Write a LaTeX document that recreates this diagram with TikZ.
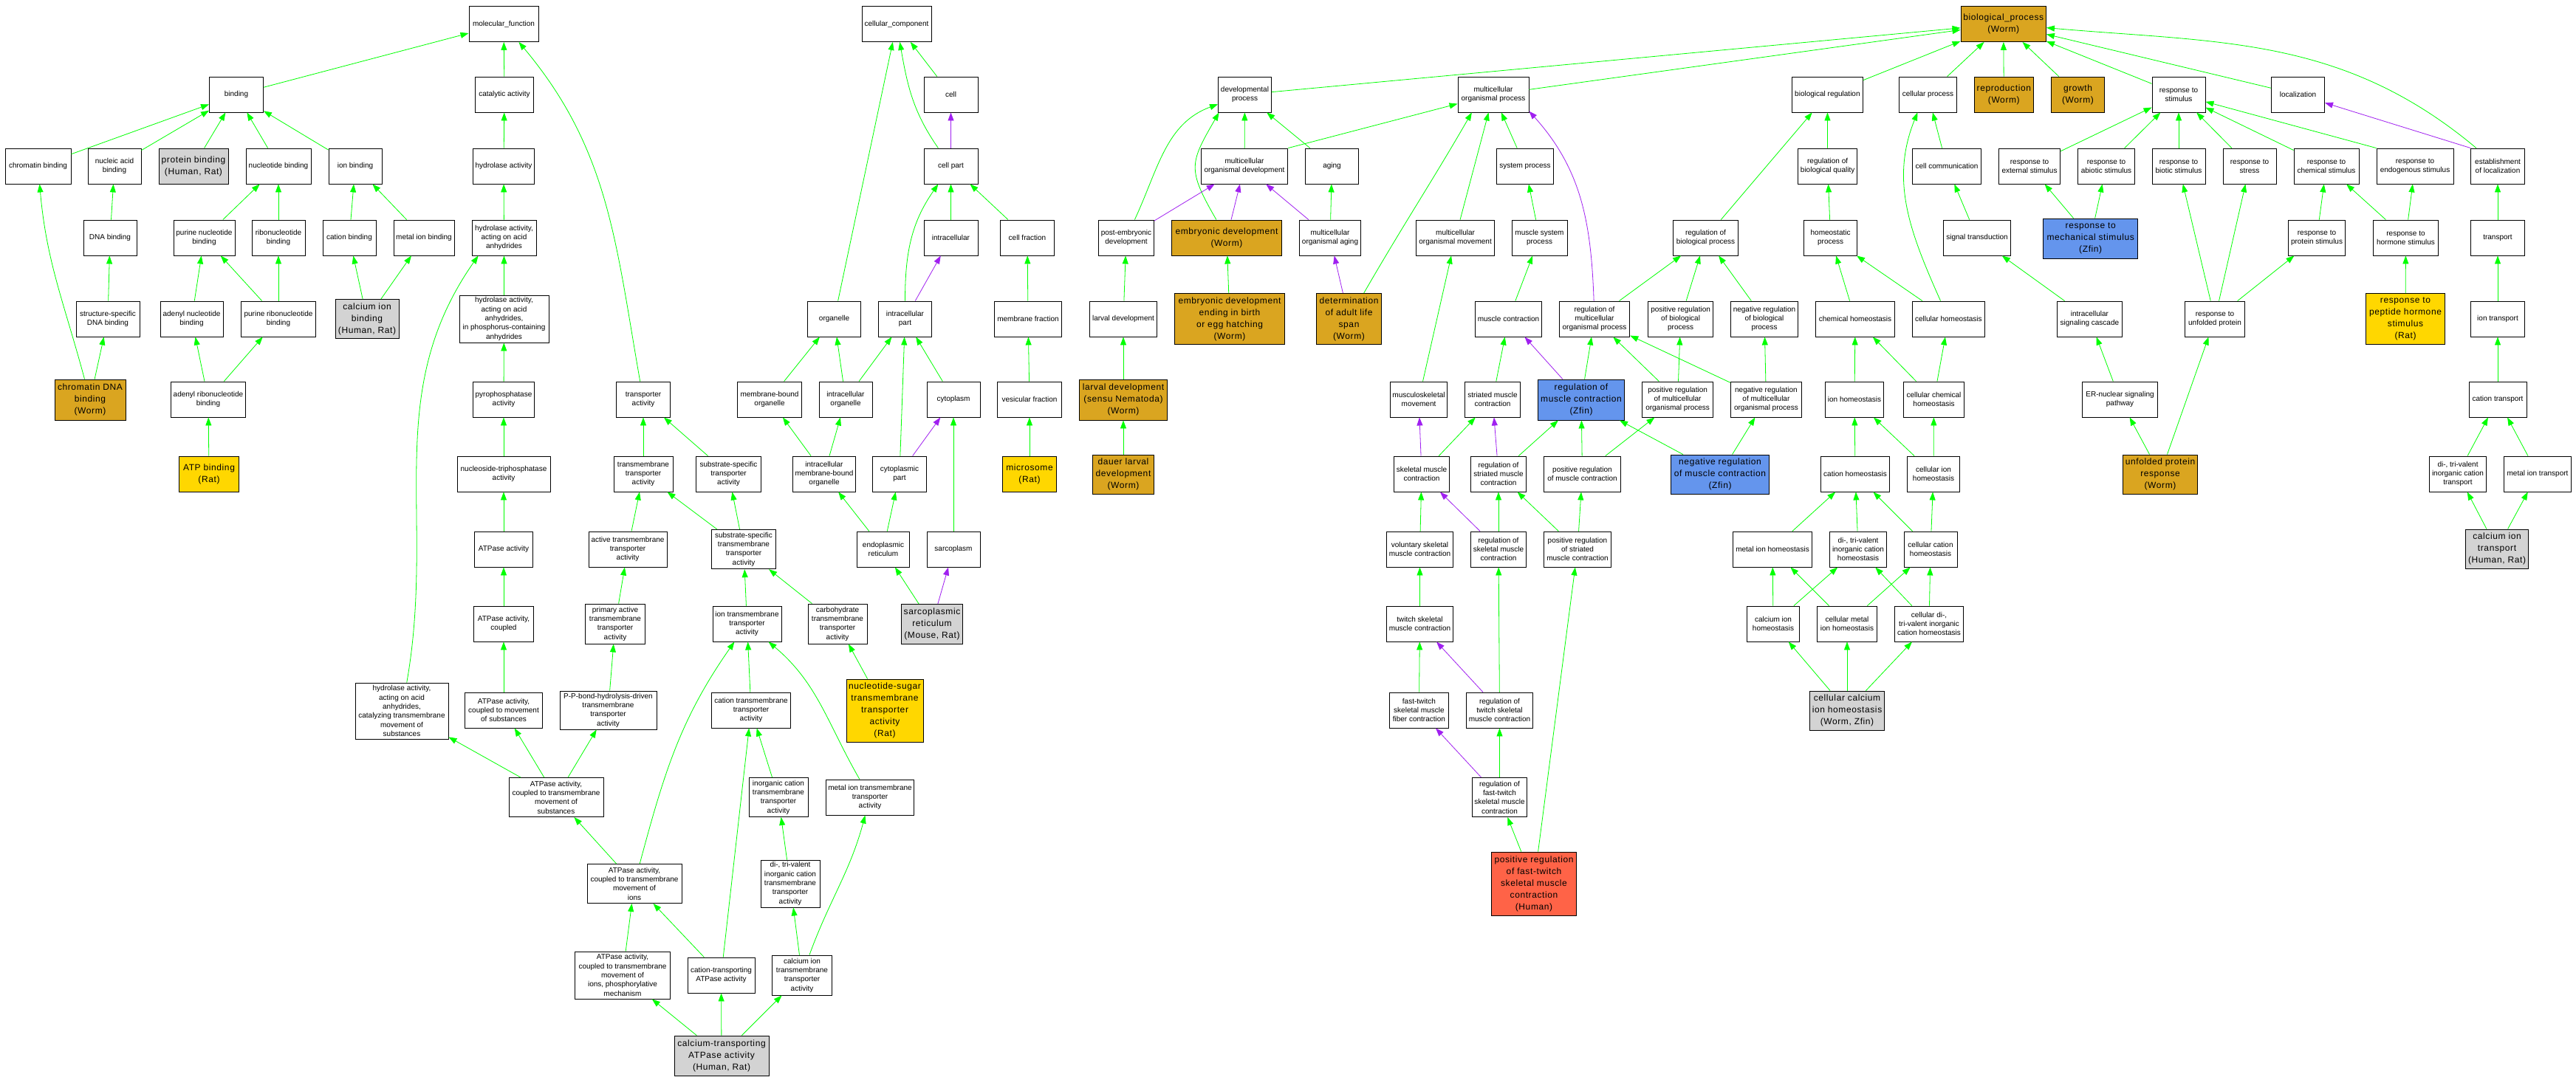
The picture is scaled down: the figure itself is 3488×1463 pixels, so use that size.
\documentclass[tikz,border=0pt]{standalone}
\usepackage{fontspec}
\setmainfont{Liberation Sans}
\newfontfamily\hitfont[LetterSpace=5]{Liberation Sans}
\usetikzlibrary{arrows.meta}
\definecolor{isagreen}{RGB}{0,255,0}
\definecolor{partpurple}{RGB}{160,32,240}
\definecolor{worm}{RGB}{218,165,32}
\definecolor{rat}{RGB}{255,215,0}
\definecolor{multi}{RGB}{211,211,211}
\definecolor{zfin}{RGB}{100,149,237}
\definecolor{human}{RGB}{255,99,71}
\tikzstyle{term}=[rectangle,draw,line width=0.9pt,fill=white,inner sep=1pt,align=center,font=\fontsize{10}{12.3}\selectfont]
\tikzstyle{hit}=[term,font=\hitfont\fontsize{12}{16}\selectfont]
\tikzstyle{isa}=[draw=isagreen,line width=0.8pt,-{Triangle[length=11pt,width=8pt]}]
\tikzstyle{partof}=[isa,draw=partpurple]

\begin{document}
\begin{tikzpicture}[x=1pt,y=1pt]
    \fill[white] (0,0) rectangle (3488,-1463);
    \useasboundingbox (0,0) rectangle (3488,-1463);

    % First we draw the plain terms
    \foreach \x/\y/\w/\h/\name/\txt in {
        682/32.5/94/48/mf/molecular\_function, 1214/32.5/94/48/cc/cellular\_component,
        320/128/73/48/binding/binding, 683/128/79/48/catalytic/catalytic activity,
        1287.5/128/73/48/cell/cell, 1685.5/128/72/48/devproc/developmental\\process,
        2022/128/96/48/mcop/multicellular\\organismal process, 2474.4/128/96/48/bioreg/biological regulation,
        2610.5/128/78/48/cellproc/cellular process, 2950/128/72/48/respstim/response to\\stimulus,
        3111.5/128/72/48/localiz/localization,
        51.5/225/89/48/chrombind/chromatin binding, 155/225/72/48/nucacid/nucleic acid\\binding,
        377/225/88/48/nucleotide/nucleotide binding, 481/225/72/48/ionbind/ion binding,
        682/225/82.5/48/hydrolase/hydrolase activity, 1287.5/225/73/48/cellpart/cell part,
        1685/225/117.6/48/mcodev/multicellular\\organismal development, 1803.5/225/72/48/aging/aging,
        2065/225/77.6/48/sysproc/system process, 2474.6/225/80.4/48/regbioqual/regulation of\\biological quality,
        2636/225/93/48/cellcomm/cell communication, 2748/225/83/48/respext/response to\\external stimulus,
        2852/225/77.3/48/respabio/response to\\abiotic stimulus, 2950/225/72/48/respbio/response to\\biotic stimulus,
        3046/225/72/48/respstress/response to\\stress, 3150/225/88/48/respchem/response to\\chemical stimulus,
        3270/225/104/48/respendo/response to\\endogenous stimulus, 3382/225/72.6/48/estloc/establishment\\of localization,
        149/322/72/48/dnabind/DNA binding, 276.5/322/83/48/purnuc/purine nucleotide\\binding,
        377/322/72/48/ribonuc/ribonucleotide\\binding, 473/322/72/48/catbind/cation binding,
        574/322/82/48/metbind/metal ion binding, 682.5/322/87/48/hydacid/{hydrolase activity,\\acting on acid\\anhydrides},
        1287.5/322/73/48/intracell/intracellular, 1391/322/73/48/cellfrac/cell fraction,
        1525/322/75/48/postemb/post-embryonic\\development, 1801/322/83/48/mcoaging/multicellular\\organismal aging,
        1970.6/322/106/48/mcomove/multicellular\\organismal movement, 2084.5/322/75/48/muscsys/muscle system\\process,
        2309.5/322/88.3/48/regbp/regulation of\\biological process, 2478.6/322/72.3/48/homeo/homeostatic\\process,
        2677/322/91/48/sigtrans/signal transduction, 3137/322/77.6/48/respprot/response to\\protein stimulus,
        3257.5/322/88/48/resphorm/response to\\hormone stimulus, 3382/322/72.6/48/transport/transport,
        146/432/86/48/ssdna/structure-specific\\DNA binding, 259.5/432/85/48/adenuc/adenyl nucleotide\\binding,
        377/432/101/48/purribo/purine ribonucleotide\\binding,
        682.5/432/121/64/hydphos/{hydrolase activity,\\acting on acid\\anhydrides,\\in phosphorus-containing\\anhydrides},
        1129.5/432/72/48/organelle/organelle, 1225.5/432/72/48/intrapart/intracellular\\part,
        1392/432/91.5/48/membfrac/membrane fraction, 1521/432/91.4/48/larval/larval development,
        2042.5/432/90/48/musccon/muscle contraction, 2159/432/95.6/48/regmcop/regulation of\\multicellular\\organismal process,
        2275.6/432/88.4/48/posregbp/positive regulation\\of biological\\process, 2389/432/91/48/negregbp/negative regulation\\of biological\\process,
        2512/432/107/48/chemhomeo/chemical homeostasis, 2638.4/432/98/48/cellhomeo/cellular homeostasis,
        2829.4/432/88/48/intrasig/intracellular\\signaling cascade, 2999/432/80.5/48/respunf/response to\\unfolded protein,
        3382/432/72.6/48/iontrans/ion transport,
        282/541/101.5/48/adenribo/adenyl ribonucleotide\\binding, 682/541/82.5/48/pyro/pyrophosphatase\\activity,
        871/541/72.6/48/transporter/transporter\\activity, 1042/541/86.5/48/membbound/membrane-bound\\organelle,
        1145/541/72/48/intraorg/intracellular\\organelle, 1291/541/72/48/cytoplasm/cytoplasm,
        1394/541/86.5/48/vesfrac/vesicular fraction, 1921/541/77/48/muskel/musculoskeletal\\movement,
        2021/541/75/48/striated/striated muscle\\contraction, 2271.6/541/96.4/48/posregmcop/positive regulation\\of multicellular\\organismal process,
        2391.4/541/96/48/negregmcop/negative regulation\\of multicellular\\organismal process, 2511/541/79.5/48/ionhomeo/ion homeostasis,
        2618.5/541/82/48/cellchem/cellular chemical\\homeostasis, 2870.5/541/102/48/ernuc/ER-nuclear signaling\\pathway,
        3382/541/78/48/cattrans/cation transport,
        682/642/126/48/ntpase/nucleoside-triphosphatase\\activity, 871/642/80/48/tmtrans/transmembrane\\transporter\\activity,
        986.5/642/88.4/48/sstrans/substrate-specific\\transporter\\activity, 1116/642/85.5/48/intramemb/intracellular\\membrane-bound\\organelle,
        1218/642/72.4/48/cytopart/cytoplasmic\\part, 1925/642/75.4/48/skelmusc/skeletal muscle\\contraction,
        2029/642/75/48/regstri/regulation of\\striated muscle\\contraction, 2142.5/642/103.7/48/posregmusc/positive regulation\\of muscle contraction,
        2512/642/93/48/cathomeo/cation homeostasis, 2618/642/71.5/48/cellionhomeo/cellular ion\\homeostasis,
        3328/642/77.5/48/ditritrans/{di-, tri-valent\\inorganic cation\\transport}, 3436/642/90.5/48/mettrans/metal ion transport,
        682/744/79/48/atpase/ATPase activity, 850/744/106/48/activetm/active transmembrane\\transporter\\activity,
        1007/744/87.5/53.5/sstm/substrate-specific\\transmembrane\\transporter\\activity, 1196/744/71.6/48/er/endoplasmic\\reticulum,
        1291/744/72/48/sarcoplasm/sarcoplasm, 1922.5/744/90.3/48/volskel/voluntary skeletal\\muscle contraction,
        2029/744/75/48/regskel/regulation of\\skeletal muscle\\contraction, 2136/744/90.7/48/posregstri/positive regulation\\of striated\\muscle contraction,
        2400/744/107/48/methomeo/metal ion homeostasis, 2516/744/77.3/48/ditrihomeo/{di-, tri-valent\\inorganic cation\\homeostasis},
        2614/744/72/48/cellcathomeo/cellular cation\\homeostasis,
        682/845/81/48/atpcoupled/{ATPase activity,\\coupled}, 833/845/80.5/54/primact/primary active\\transmembrane\\transporter\\activity,
        1011.5/845/93/48/iontm/ion transmembrane\\transporter\\activity, 1134/845/80/54/carbo/carbohydrate\\transmembrane\\transporter\\activity,
        1922.5/845/90.3/48/twitch/twitch skeletal\\muscle contraction, 2401/845/71.5/48/cahomeo/calcium ion\\homeostasis,
        2501/845/80.6/48/cellmethomeo/cellular metal\\ion homeostasis, 2612/845/93/48/cellditri/{cellular di-,\\tri-valent inorganic\\cation homeostasis},
        544/963/126/76/hydtm/{hydrolase activity,\\acting on acid\\anhydrides,\\catalyzing transmembrane\\movement of\\substances},
        682/962/105/48/atpmovsub/{ATPase activity,\\coupled to movement\\of substances},
        823.5/962/131/52/ppbond/P-P-bond-hydrolysis-driven\\transmembrane\\transporter\\activity,
        1017/962/106.5/48/cattm/cation transmembrane\\transporter\\activity,
        1921.4/962/80.6/48/fastfiber/fast-twitch\\skeletal muscle\\fiber contraction,
        2030.5/962/90.3/48/regtwitch/regulation of\\twitch skeletal\\muscle contraction,
        753/1080/128/53/atptmsub/{ATPase activity,\\coupled to transmembrane\\movement of\\substances},
        1054/1080/80/53/inorgtm/inorganic cation\\transmembrane\\transporter\\activity,
        1178/1080/119.5/48/mettm/metal ion transmembrane\\transporter\\activity,
        2030.5/1080/74.2/53/regfast/regulation of\\fast-twitch\\skeletal muscle\\contraction,
        859/1197/128/53/atptmion/{ATPase activity,\\coupled to transmembrane\\movement of\\ions},
        1070/1197/80/64/ditritm/{di-, tri-valent\\inorganic cation\\transmembrane\\transporter\\activity},
        843/1321/128.6/64/phosmech/{ATPase activity,\\coupled to transmembrane\\movement of\\ions, phosphorylative\\mechanism},
        976.5/1321/91/48/catatpase/cation-transporting\\ATPase activity,
        1086/1321/80.5/54/catm/calcium ion\\transmembrane\\transporter\\activity}
        \node[term,minimum width=\w pt,minimum height=\h pt] (\name) at (\x,-\y) {\txt};

    % Then the annotated terms, one colour per source
    \foreach \x/\y/\w/\h/\name/\txt in {
        2712.7/32.5/115.5/48/bp/biological\_process\\(Worm), 2713.3/128/80.6/48/repro/reproduction\\(Worm),
        2813.5/128/72.4/48/growth/growth\\(Worm), 1661/322/149.6/48/embdev/embryonic development\\(Worm),
        1665/432/149.5/69/embbirth/embryonic development\\ending in birth\\or egg hatching\\(Worm),
        1826.5/432/88/69/lifespan/determination\\of adult life\\span\\(Worm),
        122/541.5/96/55/chromdna/chromatin DNA\\binding\\(Worm),
        1521/541.5/119.4/55/sensunem/larval development\\(sensu Nematoda)\\(Worm),
        1521/642.5/83/53/dauer/dauer larval\\development\\(Worm), 2925/642.5/101/53/upr/unfolded protein\\response\\(Worm)}
        \node[hit,fill=worm,minimum width=\w pt,minimum height=\h pt] (\name) at (\x,-\y) {\txt};

    \foreach \x/\y/\w/\h/\name/\txt in {
        283/642/80.5/48/atpbind/ATP binding\\(Rat), 1394/642/72.6/48/microsome/microsome\\(Rat),
        1198/962.5/104/85/nucsugar/nucleotide-sugar\\transmembrane\\transporter\\activity\\(Rat),
        3257/432/107.6/69/resppep/response to\\peptide hormone\\stimulus\\(Rat)}
        \node[hit,fill=rat,minimum width=\w pt,minimum height=\h pt] (\name) at (\x,-\y) {\txt};

    \foreach \x/\y/\w/\h/\name/\txt in {
        262/225/94/48/protbind/{protein binding\\(Human, Rat)}, 497/432/86/53/cabind/{calcium ion\\binding\\(Human, Rat)},
        1262/845.5/82.5/54/sarcoret/{sarcoplasmic\\reticulum\\(Mouse, Rat)},
        3381/743.5/84.7/53/catrans/{calcium ion\\transport\\(Human, Rat)},
        2501/962.5/101/53/cellcahomeo/{cellular calcium\\ion homeostasis\\(Worm, Zfin)},
        977/1430/128/54/caatpase/{calcium-transporting\\ATPase activity\\(Human, Rat)}}
        \node[hit,fill=multi,minimum width=\w pt,minimum height=\h pt] (\name) at (\x,-\y) {\txt};

    \foreach \x/\y/\w/\h/\name/\txt in {
        2830.7/323/128/54/respmech/response to\\mechanical stimulus\\(Zfin),
        2141/541.5/116.5/55/regmusc/regulation of\\muscle contraction\\(Zfin),
        2329/642.5/132.6/53/negregmusc/negative regulation\\of muscle contraction\\(Zfin)}
        \node[hit,fill=zfin,minimum width=\w pt,minimum height=\h pt] (\name) at (\x,-\y) {\txt};

    \node[hit,fill=human,minimum width=115pt,minimum height=86pt] (posregfast) at (2077,-1197)
        {positive regulation\\of fast-twitch\\skeletal muscle\\contraction\\(Human)};

    % Connect terms with is_a edges
    \foreach \source/\dest in {binding/mf, chrombind/binding, nucacid/binding, protbind/binding,
        nucleotide/binding, ionbind/binding, catalytic/mf, dnabind/nucacid, purnuc/nucleotide,
        ribonuc/nucleotide, catbind/ionbind, metbind/ionbind, hydrolase/catalytic, hydacid/hydrolase,
        hydphos/hydacid, pyro/hydphos, ntpase/pyro, atpase/ntpase, ssdna/dnabind, adenuc/purnuc,
        purribo/purnuc, purribo/ribonuc, cabind/catbind, cabind/metbind, chromdna/ssdna,
        adenribo/adenuc, adenribo/purribo, atpbind/adenribo,
        tmtrans/transporter, sstrans/transporter, activetm/tmtrans, sstm/tmtrans, sstm/sstrans,
        atpcoupled/atpase, atpmovsub/atpcoupled, atptmsub/hydtm, atptmsub/atpmovsub, atptmsub/ppbond,
        ppbond/primact, primact/activetm, atptmion/atptmsub, phosmech/atptmion, catatpase/atptmion,
        catatpase/cattm, caatpase/phosmech, caatpase/catatpase, caatpase/catm, catm/ditritm,
        ditritm/inorgtm, inorgtm/cattm, cattm/iontm, iontm/sstm, carbo/sstm, nucsugar/carbo,
        organelle/cc, membbound/organelle, intraorg/organelle, intramemb/membbound, intramemb/intraorg,
        intraorg/intrapart, er/intramemb, er/cytopart, cytopart/intrapart, cytoplasm/intrapart,
        sarcoplasm/cytoplasm, sarcoret/er, cell/cc, intracell/cellpart, cellfrac/cellpart,
        membfrac/cellfrac, vesfrac/membfrac, microsome/vesfrac,
        devproc/bp, mcodev/devproc, mcodev.north east/mcop, larval/postemb, embbirth/embdev,
        sensunem/larval, dauer/sensunem, aging/devproc, mcoaging/aging,
        mcop/bp, mcomove/mcop, sysproc/mcop, muscsys/sysproc, musccon/muscsys, regmcop/regbp,
        posregbp/regbp, negregbp/regbp, muskel/mcomove, striated/musccon, regmusc/regmcop,
        posregmcop/regmcop, posregmcop/posregbp, negregmcop/regmcop, negregmcop/negregbp,
        skelmusc/striated, regstri/regmusc, posregmusc/regmusc, posregmusc/posregmcop,
        negregmusc/regmusc, negregmusc/negregmcop, volskel/skelmusc, regskel/regstri,
        posregstri/regstri, posregstri/posregmusc, twitch/volskel, fastfiber/twitch,
        regtwitch/regskel, regfast/regtwitch, posregfast/regfast, posregfast/posregstri,
        bioreg/bp, cellproc/bp, repro/bp, growth/bp, respstim/bp, localiz/bp, regbioqual/bioreg,
        regbp/bioreg, homeo/regbioqual, cellcomm/cellproc, sigtrans/cellcomm, intrasig/sigtrans,
        ernuc/intrasig, upr/ernuc, upr/respunf, respext/respstim, respabio/respstim,
        respmech/respext, respmech/respabio, chemhomeo/homeo, cellhomeo/homeo, ionhomeo/chemhomeo,
        cellchem/chemhomeo, cellchem/cellhomeo, cathomeo/ionhomeo, cellionhomeo/ionhomeo,
        cellionhomeo/cellchem, methomeo/cathomeo, ditrihomeo/cathomeo, cellcathomeo/cathomeo,
        cellcathomeo/cellionhomeo, cahomeo/methomeo, cahomeo/ditrihomeo, cellmethomeo/methomeo,
        cellmethomeo/cellcathomeo, cellditri/ditrihomeo, cellditri/cellcathomeo,
        cellcahomeo/cahomeo, cellcahomeo/cellmethomeo, cellcahomeo/cellditri,
        respbio/respstim, respstress/respstim, respchem/respstim, respendo.north west/respstim,
        respprot/respchem, resphorm/respchem, resphorm/respendo, respunf/respbio,
        respunf/respstress, respunf/respprot, resppep/resphorm, transport/estloc,
        iontrans/transport, cattrans/iontrans, ditritrans/cattrans, mettrans/cattrans,
        catrans/ditritrans, catrans/mettrans}
        \draw[isa] (\source) -- (\dest);

    % the long is_a edges bend
    \draw[isa] (transporter) to[out=100,in=-50] (mf);
    \draw[isa] (hydtm) to[out=80,in=-125] (hydacid.-145);
    \draw[isa] (chromdna) to[out=105,in=-85] (chrombind);
    \draw[isa] (atptmion) to[out=75,in=-125] (iontm);
    \draw[isa] (catm) to[out=70,in=-105] (mettm);
    \draw[isa] (mettm) to[out=120,in=-40] (iontm);
    \draw[isa] (cellpart) to[out=125,in=-80] (cc);
    \draw[isa] (intrapart) to[out=90,in=-125] (cellpart);
    \draw[isa] (postemb) to[out=65,in=-160] (devproc);
    \draw[isa] (embdev.120) to[out=120,in=-120,looseness=1.4] (devproc.-145);
    \draw[isa] (lifespan.60) to[out=60,in=-120] (mcop.-140);
    \draw[isa] (cellhomeo) to[out=114,in=-112] (cellproc.-120);
    \draw[isa] (estloc) to[out=140,in=-5] (bp);

    % part_of edges
    \foreach \source/\dest in {cellpart/cell, intrapart/intracell, cytopart/cytoplasm,
        sarcoret/sarcoplasm, postemb/mcodev, embdev/mcodev, mcoaging/mcodev, lifespan/mcoaging,
        regmusc/musccon, skelmusc/muskel, regstri/striated, regskel/skelmusc, regtwitch/twitch,
        regfast/fastfiber, estloc.north west/localiz}
        \draw[partof] (\source) -- (\dest);
    \draw[partof] (regmcop) to[out=92,in=-48] (mcop.-25);

\end{tikzpicture}
\end{document}
